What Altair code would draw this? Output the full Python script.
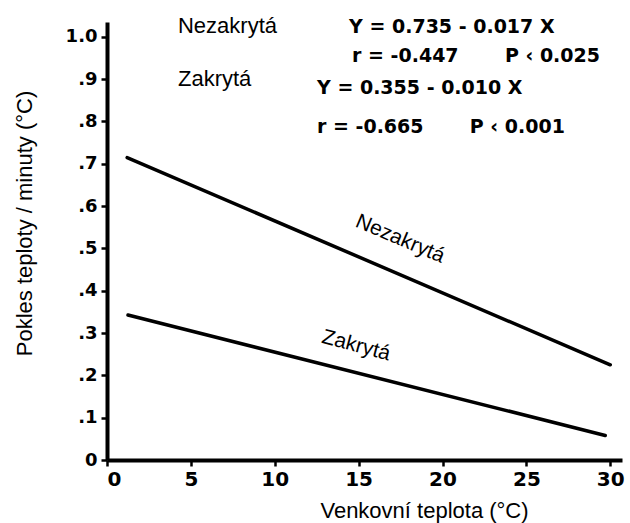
import altair as alt
import pandas as pd

# Regression lines: cooling rate vs. outside temperature
series = ["Nezakrytá", "Zakrytá"]
intercepts = [0.735, 0.355]
slopes = [-0.017, -0.010]
r_values = [-0.447, -0.665]
p_limits = ["0.025", "0.001"]
x_start = [1.2, 1.25]
x_end = [30.0, 29.7]

# positions of the annotations (data units)
name_x = [4.23, 4.23]
name_y = [1.009, 0.884]
eq_x = [14.43, 12.52]
eq_y = [1.009, 0.865]
stat_x = [14.61, 12.52]
stat_y = [0.941, 0.773]
inline_x = [17.47, 14.85]
inline_y = [0.522, 0.270]
inline_angle = [23, 15]

x_ticks = [0, 5, 10, 15, 20, 25, 30]
y_ticks = [0, 0.1, 0.2, 0.3, 0.4, 0.5, 0.6, 0.7, 0.8, 0.9, 1.0]

rows = []
for s, a, b, x0, x1 in zip(series, intercepts, slopes, x_start, x_end):
    for xv in (x0, x1):
        rows.append({"serie": s, "x": xv, "y": a + b * xv})
lines_df = pd.DataFrame(rows)

GAP = "\u00a0" * 7  # non-breaking spaces survive in SVG text
eq_rows = []
for i, s in enumerate(series):
    a, b = intercepts[i], slopes[i]
    eq_rows.append({"x": eq_x[i], "y": eq_y[i],
                    "t": f"Y = {a:.3f} - {abs(b):.3f} X"})
    eq_rows.append({"x": stat_x[i], "y": stat_y[i],
                    "t": f"r = {r_values[i]:.3f}{GAP}P \u2039 {p_limits[i]}"})
eq_df = pd.DataFrame(eq_rows)

names_df = pd.DataFrame({"x": name_x, "y": name_y, "t": series})
inline_df = pd.DataFrame({"x": inline_x, "y": inline_y, "t": series,
                          "ang": inline_angle})

X_DOMAIN = [0, 30.7]
Y_DOMAIN = [0, 1.035]
BOLD = "DejaVu Sans"
REG = "Liberation Sans"

x_enc = alt.X(
    "x:Q",
    scale=alt.Scale(domain=X_DOMAIN, nice=False, zero=False),
    axis=alt.Axis(
        values=x_ticks, format="d", title="Venkovní teplota (°C)",
        titleFont=REG, titleFontSize=22, titleFontWeight="normal",
        titleColor="black", titleX=317, titleY=57, titleBaseline="alphabetic",
        titleAnchor="start", titleAlign="center",
        labelFont=BOLD, labelFontWeight="bold", labelFontSize=20,
        labelColor="black", labelPadding=3,
        domainColor="black", domainWidth=4, tickColor="black",
        tickWidth=2.5, tickSize=6, grid=False,
    ),
)
y_enc = alt.Y(
    "y:Q",
    scale=alt.Scale(domain=Y_DOMAIN, nice=False, zero=False),
    axis=alt.Axis(
        values=y_ticks,
        labelExpr="datum.value == 0 ? '0' : (datum.value >= 0.999 ? '1.0' : replace(format(datum.value, '.1f'), '0.', '.'))",
        title="Pokles teploty / minuty (°C)",
        titleFont=REG, titleFontSize=22, titleFontWeight="normal",
        titleColor="black", titleX=-76, titleY=201, titleAngle=-90,
        titleBaseline="alphabetic", titleAlign="center",
        labelFont=BOLD, labelFontWeight="bold", labelFontSize=18,
        labelColor="black", labelPadding=4,
        domainColor="black", domainWidth=4, tickColor="black",
        tickWidth=2.5, tickSize=6, grid=False,
    ),
)

lines = alt.Chart(lines_df).mark_line(
    color="black", strokeWidth=3.5, strokeCap="round"
).encode(x=x_enc, y=y_enc, detail="serie:N")

names = alt.Chart(names_df).mark_text(
    font=REG, fontSize=22, color="black", align="left", baseline="alphabetic"
).encode(x="x:Q", y="y:Q", text="t:N")

equations = alt.Chart(eq_df).mark_text(
    font=BOLD, fontWeight="bold", fontSize=19, color="black",
    align="left", baseline="alphabetic"
).encode(x="x:Q", y="y:Q", text="t:N")

inline = alt.Chart(inline_df).mark_text(
    font=REG, fontSize=21, color="black", align="center", baseline="middle"
).encode(x="x:Q", y="y:Q", text="t:N", angle=alt.Angle("ang:Q", scale=None))

chart = (
    alt.layer(lines, names, equations, inline)
    .properties(
        width=515, height=438,
        autosize=alt.AutoSizeParams(type="none"),
        padding={"left": 107, "top": 22, "right": 8, "bottom": 63},
        background="white",
    )
    .configure_view(stroke=None)
)

chart.save("out.html", embed_options={"renderer": "svg", "actions": False})
